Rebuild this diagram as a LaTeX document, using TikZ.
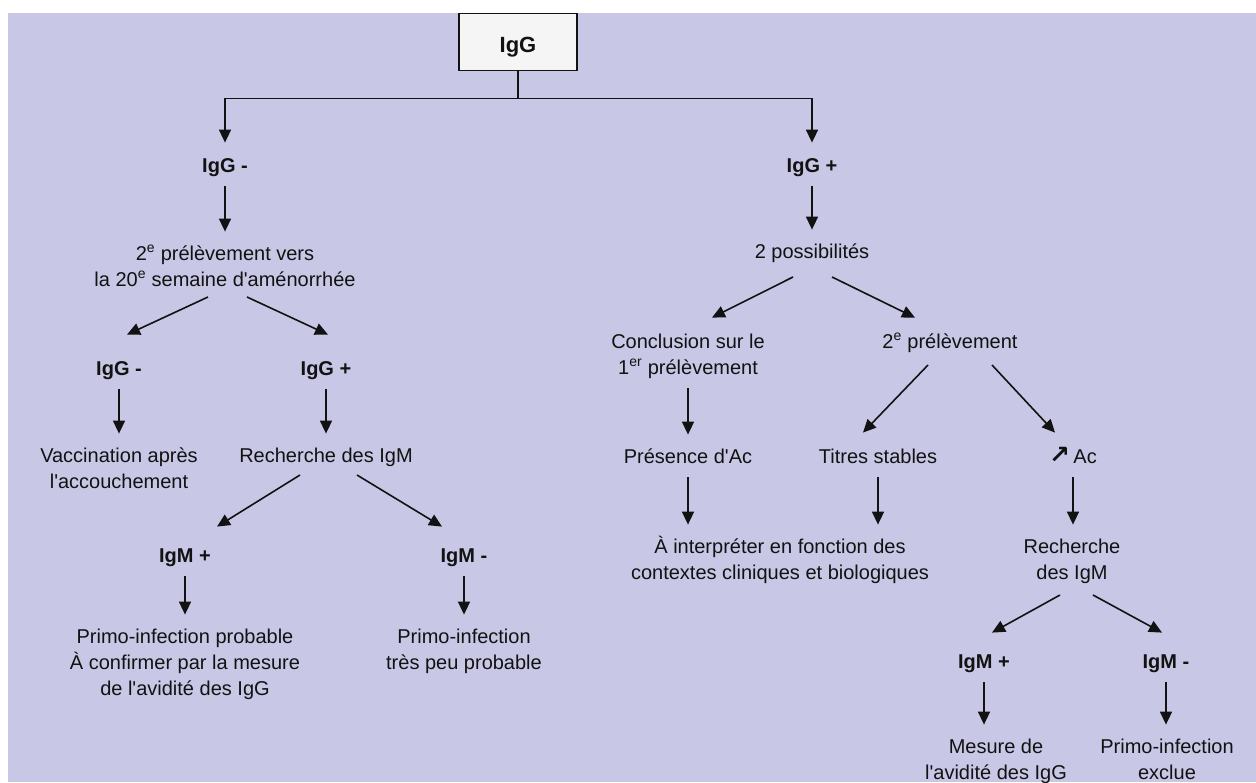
\documentclass[tikz,border=0pt]{standalone}
\usepackage{fontspec}
\setmainfont{Liberation Sans}[Ligatures=TeXOff]
\newfontfamily\dejavu{DejaVu Sans}
\usetikzlibrary{arrows.meta,calc}
\definecolor{lav}{RGB}{200,200,230}
\definecolor{ink}{RGB}{18,18,18}
\definecolor{boxfill}{RGB}{245,245,245}
\begin{document}
\begin{tikzpicture}[x=1pt,y=-1pt,
  txt/.style={inner sep=0pt, align=center, text=ink, font=\fontsize{20}{26}\selectfont},
  btxt/.style={txt, font=\fontsize{20}{26}\selectfont\bfseries},
  arr/.style={draw=ink, line width=1.6pt, -{Triangle[length=13pt,width=12pt]}},
  varr/.style={arr, shorten <=6pt, shorten >=10pt},
  topbox/.style={draw=ink, line width=1.6pt, fill=boxfill, minimum width=118pt, minimum height=57pt,
    text height=20pt, text depth=0pt, text=ink, font=\fontsize{22}{26}\selectfont\bfseries}]
\useasboundingbox (0,0) rectangle (1256,782);
\fill[white] (0,0) rectangle (1256,782);
\fill[lav] (8,13) rectangle (1256,782);

% nodes
\node[topbox] (top) at (518,42) {IgG};
\node[btxt] (gneg) at (225,166.8) {\strut IgG -};
\node[btxt] (gpos) at (812,166.8) {\strut IgG +};

\node[txt] (two) at (225,267.8) {\strut 2\textsuperscript{e} prélèvement vers\\\strut la 20\textsuperscript{e} semaine d'aménorrhée};
\node[btxt] (lneg2) at (119,369.8) {\strut IgG -};
\node[btxt] (lpos2) at (326,369.8) {\strut IgG +};
\node[txt] (vacc) at (119,469.8) {\strut Vaccination après\\\strut l'accouchement};
\node[txt] (rech) at (326,456.8) {\strut Recherche des IgM};
\node[btxt] (igmp) at (185,556.8) {\strut IgM +};
\node[btxt] (igmn) at (464,556.8) {\strut IgM -};
\node[txt] (primo1) at (185,663.8) {\strut Primo-infection probable\\\strut À confirmer par la mesure\\\strut de l'avidité des IgG};
\node[txt] (primo2) at (464,650.8) {\strut Primo-infection\\\strut très peu probable};

\node[txt] (poss) at (812,252.8) {\strut 2 possibilités};
\node[txt] (concl) at (688,355.8) {\strut Conclusion sur le\\\strut 1\textsuperscript{er} prélèvement};
\node[txt] (prel2) at (950,342.8) {\strut 2\textsuperscript{e} prélèvement};
\node[txt] (pres) at (688,457.8) {\strut Présence d'Ac};
\node[txt] (titres) at (878,457.8) {\strut Titres stables};
\node[txt] (acup) at (1073,457.8) {\strut{\dejavu\bfseries\fontsize{25}{26}\selectfont ↗}\,Ac};
\node[txt] (interp) at (780,560.8) {\strut À interpréter en fonction des\\\strut contextes cliniques et biologiques};
\node[txt] (rech2) at (1072,560.8) {\strut Recherche\\\strut des IgM};
\node[btxt] (igmp2) at (984,662.8) {\strut IgM +};
\node[btxt] (igmn2) at (1166,662.8) {\strut IgM -};
\node[txt] (mesure) at (996,760.8) {\strut Mesure de\\\strut l'avidité des IgG};
\node[txt] (exclue) at (1167,760.8) {\strut Primo-infection\\\strut exclue};

% connectors from top box
\draw[arr] (top.south) -- ++(0,27) -| ([yshift=11pt]gneg.north);
\draw[arr] (top.south) -- ++(0,27) -| ([yshift=11pt]gpos.north);

% left branch
\draw[varr] (gneg.south) -- (gneg.south |- two.north);
\draw[arr] ([shift={(-17,3)}]two.south) -- ([shift={(8,-22)}]lneg2.north);
\draw[arr] ([shift={(22,3)}]two.south) -- ([shift={(2,-22)}]lpos2.north);
\draw[varr] (lneg2.south) -- (lneg2.south |- vacc.north);
\draw[varr] (lpos2.south) -- (lpos2.south |- rech.north);
\draw[arr] ([shift={(-26,5)}]rech.south) -- ([shift={(32,-17)}]igmp.north);
\draw[arr] ([shift={(31,5)}]rech.south) -- ([shift={(-22,-17)}]igmn.north);
\draw[varr] (igmp.south) -- (igmp.south |- primo1.north);
\draw[varr] (igmn.south) -- (igmn.south |- primo2.north);

% right branch
\draw[varr] (gpos.south) -- (gpos.south |- poss.north);
\draw[arr] ([shift={(-19,11)}]poss.south) -- ([shift={(24,-12)}]concl.north);
\draw[arr] ([shift={(20,11)}]poss.south) -- ([shift={(-35,-12)}]prel2.north);
\draw[varr] (concl.south) -- (concl.south |- pres.north);
\draw[arr] ([shift={(-22,9)}]prel2.south) -- ([shift={(-15,-12)}]titres.north);
\draw[arr] ([shift={(42,9)}]prel2.south) -- ([shift={(-18,-12)}]acup.north);
\draw[varr] (pres.south) -- (pres.south |- interp.north);
\draw[varr] (titres.south) -- (titres.south |- interp.north);
\draw[varr] (acup.south) -- (acup.south |- rech2.north);
\draw[arr] ([shift={(-12,8)}]rech2.south) -- ([shift={(8,-17)}]igmp2.north);
\draw[arr] ([shift={(21,8)}]rech2.south) -- ([shift={(-4,-17)}]igmn2.north);
\draw[varr] (igmp2.south) -- (igmp2.south |- mesure.north);
\draw[varr] (igmn2.south) -- (igmn2.south |- exclue.north);
\end{tikzpicture}
\end{document}
